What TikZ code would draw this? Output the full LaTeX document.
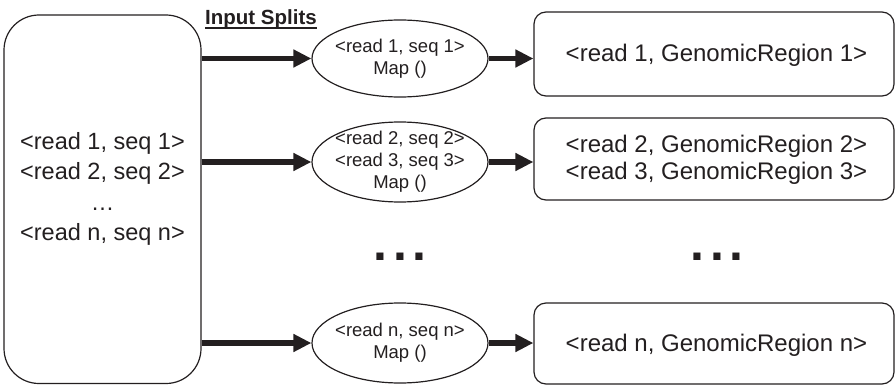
\documentclass[tikz,border=0pt]{standalone}
\usepackage{fontspec}
\setmainfont{Liberation Sans}
\usetikzlibrary{shapes.geometric,arrows.meta}
\definecolor{ink}{HTML}{231F20}
\begin{document}
\begin{tikzpicture}[x=1pt,y=-1pt,
  bigbox/.style={draw=ink, line width=1.2pt, rounded corners=35pt, minimum width=197pt, minimum height=368.5pt, inner sep=0pt},
  outbox/.style={draw=ink, line width=1.2pt, rounded corners=12pt, minimum width=360pt, inner sep=0pt},
  mapell/.style={draw=ink, ellipse, line width=1.2pt, minimum width=176pt, inner sep=0pt},
  flow/.style={draw=ink, line width=5.5pt, -{Triangle[length=18pt,width=17pt]}},
  bigtxt/.style={text=ink, align=center, inner sep=0pt, font=\fontsize{23.5}{30.5}\selectfont},
  outtxt/.style={text=ink, align=center, inner sep=0pt, font=\fontsize{24}{26.5}\selectfont},
  maptxt/.style={text=ink, align=center, inner sep=0pt, font=\fontsize{18.5}{22}\selectfont},
  dotstxt/.style={text=ink, inner sep=0pt, font=\bfseries\fontsize{50}{50}\selectfont},
  lbltxt/.style={text=ink, inner sep=0pt, anchor=base west, font=\bfseries\fontsize{20.5}{24}\selectfont}
]
\useasboundingbox (0,0) rectangle (896,385);

% source box
\node[bigbox] (src) at (102.5,199.25) {};
\node[bigtxt] (srctxt) at (102.5,189) {<read 1, seq 1>\\<read 2, seq 2>\\…\\<read n, seq n>};

% label
\node[lbltxt] (lbl) at (205,25) {Input Splits};
\draw[ink, line width=1.8pt] ([yshift=-3.2pt]lbl.base west) -- ([yshift=-3.2pt]lbl.base east);

% map ellipses
\node[mapell, minimum height=77pt] (m1) at (400,58.5) {};
\node[mapell, minimum height=80pt] (m2) at (400,162) {};
\node[mapell, minimum height=80pt] (m3) at (400,343) {};
\node[maptxt] (m1t) at (400,59) {<read 1, seq 1>\\Map ()};
\node[maptxt] (m2t) at (400,161.5) {<read 2, seq 2>\\<read 3, seq 3>\\Map ()};
\node[maptxt] (m3t) at (400,343) {<read n, seq n>\\Map ()};

% output boxes
\node[outbox, minimum height=84pt] (o1) at (714,54) {};
\node[outbox, minimum height=82pt] (o2) at (714,159) {};
\node[outbox, minimum height=81pt] (o3) at (714,343.5) {};
\node[outtxt] (o1t) at (716.5,55) {<read 1, GenomicRegion 1>};
\node[outtxt] (o2t) at (716.5,160) {<read 2, GenomicRegion 2>\\<read 3, GenomicRegion 3>};
\node[outtxt] (o3t) at (716.5,345) {<read n, GenomicRegion n>};

% dots
\node[dotstxt] (d1) at (400,257) {.\kern6pt.\kern6pt.};
\node[dotstxt] (d2) at (717,257) {.\kern6pt.\kern6pt.};

% arrows
\draw[flow] (src.east |- m1) -- (m1.west);
\draw[flow] (src.east |- m2) -- (m2.west);
\draw[flow] (src.east |- m3) -- (m3.west);
\draw[flow] (m1.east) -- (m1.east -| o1.west);
\draw[flow] (m2.east) -- (m2.east -| o2.west);
\draw[flow] (m3.east) -- (m3.east -| o3.west);
\end{tikzpicture}
\end{document}
